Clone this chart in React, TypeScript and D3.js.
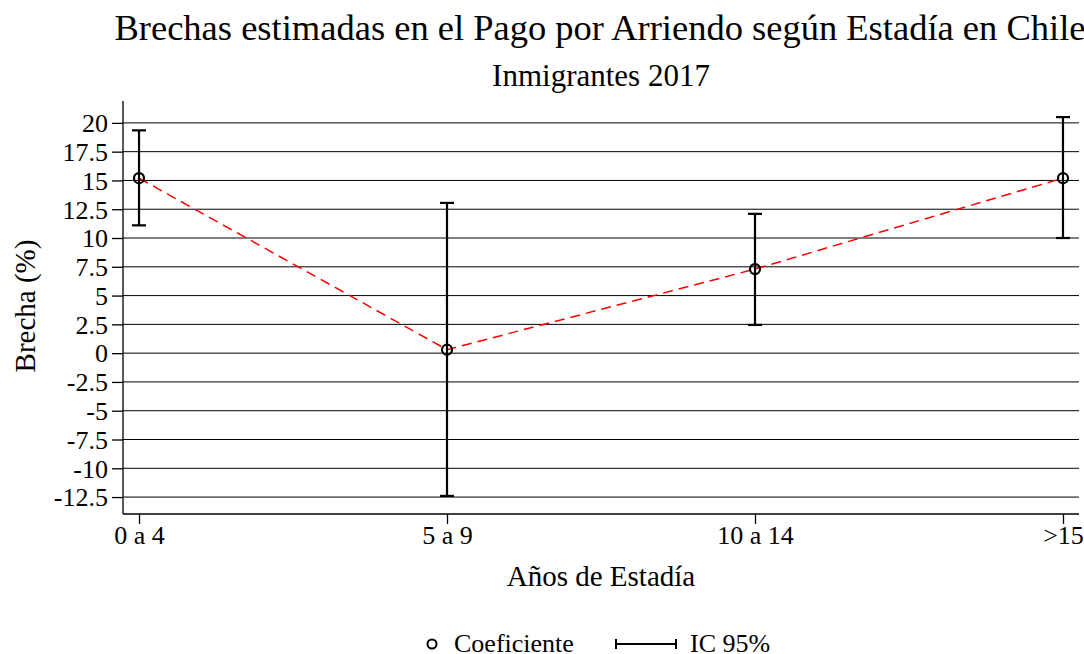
import React, { useEffect, useRef } from 'react';
import * as d3 from 'd3';

const categories = ['0 a 4', '5 a 9', '10 a 14', '>15'];
const coef = [15.2, 0.3, 7.3, 15.2];
const ciLow = [11.1, -12.4, 2.45, 10.0];
const ciHigh = [19.35, 13.05, 12.1, 20.5];
const yTicks = [20, 17.5, 15, 12.5, 10, 7.5, 5, 2.5, 0, -2.5, -5, -7.5, -10, -12.5];

const W = 1084;
const H = 654;
const FONT = '"Liberation Serif", "Times New Roman", serif';

export default function App() {
	const ref = useRef<SVGSVGElement>(null);

	useEffect(() => {
		const svg = d3.select(ref.current);
		svg.selectAll('*').remove();
		svg.style('font-family', FONT);

		const x = d3.scaleLinear().domain([-0.052, 3.052]).range([123, 1079]);
		const y = d3.scaleLinear().domain([-13.97, 21.9]).range([514, 101]);

		// gridlines
		svg.append('g')
			.selectAll('line')
			.data(yTicks)
			.enter()
			.append('line')
			.attr('x1', 123)
			.attr('x2', 1079)
			.attr('y1', d => y(d))
			.attr('y2', d => y(d))
			.attr('stroke', '#000')
			.attr('stroke-width', 1);

		// y axis
		const yAxis = d3
			.axisLeft(y)
			.tickValues(yTicks)
			.tickSize(11)
			.tickPadding(4)
			.tickFormat(d => String(d));
		const gy = svg.append('g').attr('transform', 'translate(123,0)').call(yAxis);
		gy.select('.domain').attr('d', `M0,${y.range()[1]}V${y.range()[0]}`).attr('stroke-width', 1.3);
		gy.selectAll('text').style('font-size', '26px').style('font-family', FONT).attr('fill', '#000').attr('dy', '0.34em');
		gy.selectAll('line').attr('stroke-width', 1.3);

		// x axis
		const xAxis = d3
			.axisBottom(x)
			.tickValues([0, 1, 2, 3])
			.tickSize(10)
			.tickPadding(4)
			.tickFormat((d: any) => categories[d]);
		const gx = svg.append('g').attr('transform', 'translate(0,514)').call(xAxis);
		gx.select('.domain').attr('d', `M${x.range()[0]},0H${x.range()[1]}`).attr('stroke-width', 1.3);
		gx.selectAll('text').style('font-size', '26px').style('font-family', FONT).attr('fill', '#000').attr('dy', '0.62em');
		gx.selectAll('line').attr('stroke-width', 1.3);

		// connecting dashed line
		const line = d3
			.line<number>()
			.x((d, i) => x(i))
			.y(d => y(d));
		svg.append('path')
			.datum(coef)
			.attr('d', line)
			.attr('fill', 'none')
			.attr('stroke', '#ff0000')
			.attr('stroke-width', 1.5)
			.attr('stroke-dasharray', '10,6');

		// error bars
		const eb = svg.append('g').attr('stroke', '#000').attr('stroke-width', 2.2);
		categories.forEach((c, i) => {
			eb.append('line').attr('x1', x(i)).attr('x2', x(i)).attr('y1', y(ciLow[i])).attr('y2', y(ciHigh[i]));
			eb.append('line').attr('x1', x(i) - 7).attr('x2', x(i) + 7).attr('y1', y(ciLow[i])).attr('y2', y(ciLow[i]));
			eb.append('line').attr('x1', x(i) - 7).attr('x2', x(i) + 7).attr('y1', y(ciHigh[i])).attr('y2', y(ciHigh[i]));
		});

		// points
		svg.append('g')
			.selectAll('circle')
			.data(coef)
			.enter()
			.append('circle')
			.attr('cx', (d, i) => x(i))
			.attr('cy', d => y(d))
			.attr('r', 5)
			.attr('fill', 'none')
			.attr('stroke', '#000')
			.attr('stroke-width', 2.2);

		// titles
		svg.append('text')
			.attr('x', 600)
			.attr('y', 40)
			.attr('text-anchor', 'middle')
			.style('font-size', '36.5px')
			.text('Brechas estimadas en el Pago por Arriendo según Estadía en Chile');
		svg.append('text')
			.attr('x', 601)
			.attr('y', 86)
			.attr('text-anchor', 'middle')
			.style('font-size', '31px')
			.text('Inmigrantes 2017');

		svg.append('text')
			.attr('transform', `translate(35,306) rotate(-90)`)
			.attr('text-anchor', 'middle')
			.style('font-size', '29px')
			.text('Brecha (%)');
		svg.append('text')
			.attr('x', 601)
			.attr('y', 586)
			.attr('text-anchor', 'middle')
			.style('font-size', '29px')
			.text('Años de Estadía');

		// legend
		const lg = svg.append('g');
		lg.append('circle').attr('cx', 432).attr('cy', 644).attr('r', 4.5).attr('fill', 'none').attr('stroke', '#000').attr('stroke-width', 2);
		lg.append('text').attr('x', 454).attr('y', 652).style('font-size', '26px').text('Coeficiente');
		lg.append('line').attr('x1', 616).attr('x2', 676).attr('y1', 644).attr('y2', 644).attr('stroke', '#000').attr('stroke-width', 2);
		lg.append('line').attr('x1', 616).attr('x2', 616).attr('y1', 639).attr('y2', 649).attr('stroke', '#000').attr('stroke-width', 2);
		lg.append('line').attr('x1', 676).attr('x2', 676).attr('y1', 639).attr('y2', 649).attr('stroke', '#000').attr('stroke-width', 2);
		lg.append('text').attr('x', 690).attr('y', 652).style('font-size', '26px').text('IC 95%');
	}, []);

	return (
		<svg
			ref={ref}
			width={W}
			height={H}
			style={{ position: 'absolute', left: 0, top: 0, background: '#fff' }}
		/>
	);
}
